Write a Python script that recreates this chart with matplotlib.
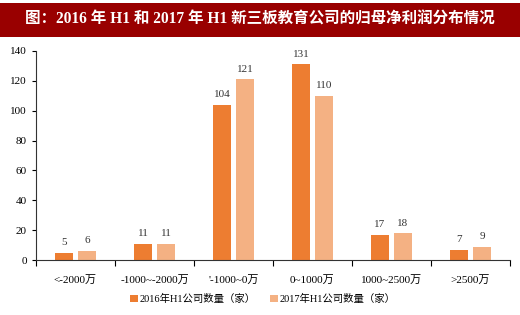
import matplotlib
matplotlib.use("Agg")
import matplotlib.pyplot as plt
import numpy as np
from matplotlib.patches import Rectangle

categories = ["<-2000万", "-1000~-2000万", "'-1000~0万", "0~1000万", "1000~2500万", ">2500万"]
h1_2016 = [5, 11, 104, 131, 17, 7]
h1_2017 = [6, 11, 121, 110, 18, 9]
series_names = ["2016年H1公司数量（家）", "2017年H1公司数量（家）"]
yticks = [0, 20, 40, 60, 80, 100, 120, 140]
title = "图：2016 年 H1 和 2017 年 H1 新三板教育公司的归母净利润分布情况"

FAM = ["Liberation Serif", "Noto Sans CJK SC"]
plt.rcParams["font.family"] = FAM

c16 = "#ED7D31"
c17 = "#F4B183"

fig = plt.figure(figsize=(5.2, 3.15), dpi=100)
fig.patch.set_facecolor("white")

# title bar
fig.patches.append(Rectangle((0, 1 - 37/315), 1, 34/315, transform=fig.transFigure,
                             facecolor="#990000", edgecolor="none", zorder=0))
fig.text(0.5, 1 - 20/315, title, color="white", fontsize=11.2, fontweight="bold",
         ha="center", va="center", family=["Liberation Serif", "Noto Sans CJK SC"])

ax = fig.add_axes([36/520, 1 - 260/315, (510-36)/520, (260-51)/315])
x = np.arange(len(categories))
w = 0.23
off = 0.145
b1 = ax.bar(x - off, h1_2016, w, color=c16, label=series_names[0])
b2 = ax.bar(x + off, h1_2017, w, color=c17, label=series_names[1])
for bars, vals in ((b1, h1_2016), (b2, h1_2017)):
    for r, v in zip(bars, vals):
        ax.annotate(str(v), (r.get_x() + r.get_width()/2, v), xytext=(0, 4),
                    textcoords="offset points", ha="center", va="bottom",
                    fontsize=8, color="#333333")

ax.set_xlim(-0.5, len(categories) - 0.5)
ax.set_ylim(0, 140)
ax.set_yticks(yticks)
ax.set_xticks(x)
ax.set_xticklabels(categories, fontsize=8)
ax.set_xticks(np.arange(len(categories) + 1) - 0.5, minor=True)
ax.tick_params(axis="x", which="major", length=0, pad=11)
ax.tick_params(axis="x", which="minor", length=4, width=0.8, direction="out")
ax.tick_params(axis="y", labelsize=8, length=3, width=0.8, direction="out")
for s in ("top", "right"):
    ax.spines[s].set_visible(False)
for s in ("left", "bottom"):
    ax.spines[s].set_linewidth(0.8)
    ax.spines[s].set_color("#333333")

leg = fig.legend(handles=[b1, b2], labels=series_names, loc="center",
                 bbox_to_anchor=(263/520, 1 - 299/315), ncol=2, frameon=False,
                 fontsize=7.5, handlelength=0.7, handleheight=0.7,
                 columnspacing=1.4, handletextpad=0.2)

fig.savefig("out.png", dpi=100)
